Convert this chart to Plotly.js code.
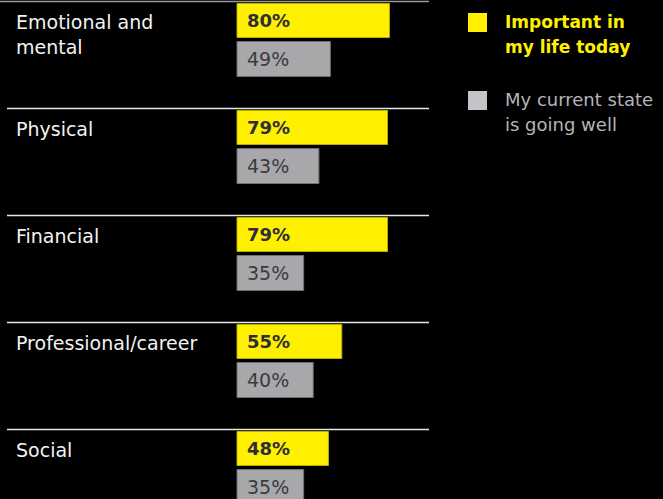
<!DOCTYPE html>
<html>
<head>
<meta charset="utf-8">
<script src="https://cdn.plot.ly/plotly-3.0.1.min.js"></script>
<style>html,body{margin:0;padding:0;background:#000;}#chart{width:663px;height:499px;}</style>
</head>
<body>
<div id="chart"></div>
<script>
var categories = ["Emotional and mental", "Physical", "Financial", "Professional/career", "Social"];
var categoryLabels = ["Emotional and<br>mental", "Physical", "Financial", "Professional/career", "Social"];
var importantToday = [80, 79, 79, 55, 48];
var currentStateWell = [49, 43, 35, 40, 35];
var seriesNames = ["Important in<br>my life today", "My current state<br>is going well"];

var W = 663, H = 499;
var PX_PER_CAT = 107;
var sepTopPx = 1.5;
var yTop = -0.5 - sepTopPx / PX_PER_CAT;
var yBottom = yTop + H / PX_PER_CAT;
var pxPerUnit = 1.905;
var zeroPx = 237;
var xMin = -zeroPx / pxPerUnit, xMax = (W - zeroPx) / pxPerUnit;

var YELLOW = "#FFF000", GRAY = "#A8A8AB";

var traces = [
  {
    type: "bar", orientation: "h", name: seriesNames[0],
    y: categories, x: importantToday,
    offset: -0.5 + 2 / PX_PER_CAT, width: 34 / PX_PER_CAT,
    marker: {color: YELLOW, line: {color: "#B8AE00", width: 1}},
    hoverinfo: "skip", showlegend: false
  },
  {
    type: "bar", orientation: "h", name: seriesNames[1],
    y: categories, x: currentStateWell,
    offset: -0.5 + 40 / PX_PER_CAT, width: 35 / PX_PER_CAT,
    marker: {color: GRAY, line: {color: "#6F6F74", width: 1}},
    hoverinfo: "skip", showlegend: false
  }
];

var shapes = [];
var annotations = [];
for (var i = 0; i < categories.length; i++) {
  shapes.push({
    type: "line", xref: "paper", yref: "y",
    x0: (i === 0 ? 0 : 7) / W, x1: 429 / W, y0: i - 0.5, y1: i - 0.5,
    line: {color: i === 0 ? "#9a9a9a" : "#e6e6e6", width: 1.5}
  });
  annotations.push({
    xref: "paper", yref: "y", x: 15 / W, y: i - 0.5, xanchor: "left", yanchor: "top",
    yshift: -8, text: categoryLabels[i], showarrow: false, align: "left", borderpad: 0,
    font: {family: "DejaVu Sans", size: 19, color: "#F2F2F2"}
  });
  annotations.push({
    xref: "x", yref: "y", x: 0, y: i - 0.5 + 19 / PX_PER_CAT, xanchor: "left", yanchor: "middle",
    xshift: 9, text: "<b>" + importantToday[i] + "%</b>", showarrow: false, borderpad: 0,
    font: {family: "DejaVu Sans", size: 18, color: "#2E2E38"}
  });
  annotations.push({
    xref: "x", yref: "y", x: 0, y: i - 0.5 + 57 / PX_PER_CAT, xanchor: "left", yanchor: "middle",
    xshift: 9, text: currentStateWell[i] + "%", showarrow: false, borderpad: 0,
    font: {family: "DejaVu Sans", size: 19, color: "#3A3A42"}
  });
}

// legend
shapes.push({type: "rect", xref: "paper", yref: "paper", x0: 468 / W, x1: 487 / W, y0: 1 - 32 / H, y1: 1 - 13 / H, fillcolor: YELLOW, line: {width: 0}});
shapes.push({type: "rect", xref: "paper", yref: "paper", x0: 468 / W, x1: 487 / W, y0: 1 - 110 / H, y1: 1 - 91 / H, fillcolor: "#C4C4C8", line: {width: 0}});
var legLines = [seriesNames[0].split("<br>"), seriesNames[1].split("<br>")];
var legCenters = [[22, 47], [100, 125]];
for (var s = 0; s < 2; s++) {
  for (var l = 0; l < 2; l++) {
    annotations.push({
      xref: "paper", yref: "paper", x: 504 / W, y: 1 - legCenters[s][l] / H,
      xanchor: "left", yanchor: "middle", showarrow: false, borderpad: 0,
      text: s === 0 ? "<b>" + legLines[s][l] + "</b>" : legLines[s][l],
      font: {family: "DejaVu Sans", size: s === 0 ? 17 : 18, color: s === 0 ? YELLOW : "#B4B4BA"}
    });
  }
}

var layout = {
  width: W, height: H,
  margin: {l: 0, r: 0, t: 0, b: 0, pad: 0},
  paper_bgcolor: "#000", plot_bgcolor: "#000",
  barmode: "overlay",
  xaxis: {range: [xMin, xMax], visible: false, fixedrange: true},
  yaxis: {type: "category", categoryarray: categories, categoryorder: "array", range: [yBottom, yTop], visible: false, fixedrange: true},
  shapes: shapes, annotations: annotations,
  showlegend: false, hovermode: false
};

Plotly.newPlot("chart", traces, layout, {displayModeBar: false, staticPlot: true});
</script>
</body>
</html>
